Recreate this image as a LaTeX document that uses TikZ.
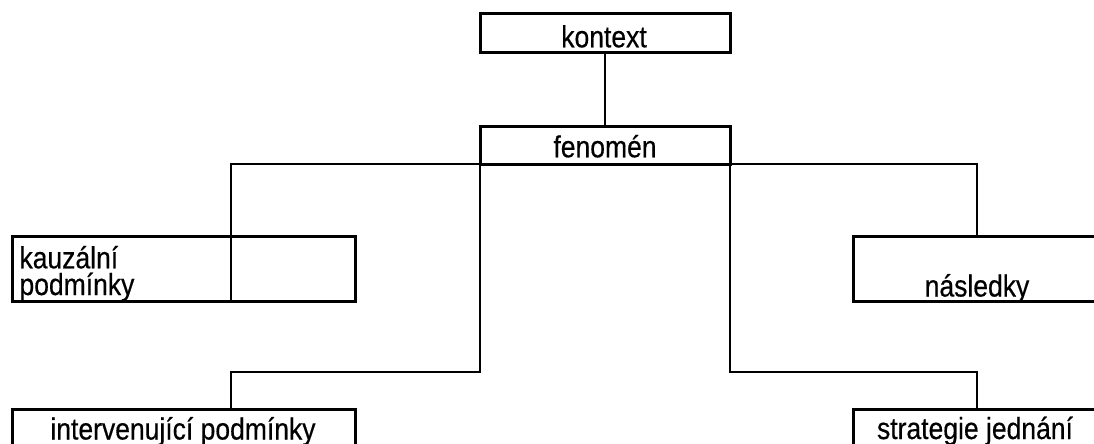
\documentclass[tikz,border=0pt]{standalone}
\usepackage{fontspec}
\setmainfont[FakeBold=0.5]{Liberation Sans}
\usepackage{graphicx}
\newcommand{\tallword}[1]{\scalebox{1}[1.15]{#1}}
\newcommand{\twolines}[2]{\scalebox{1}[1.15]{\vbox{\baselineskip=23.2pt\lineskiplimit=-100pt\lineskip=0pt\hbox{#1}\hbox{#2}}}}
\begin{document}
\begin{tikzpicture}[x=1pt,y=-1pt,
  boxnode/.style={draw=black,line width=3pt,inner sep=0pt,outer sep=0pt,fill=none},
  wire/.style={draw=black,line width=2pt},
  lbl/.style={inner sep=0pt,outer sep=0pt,anchor=base,font=\fontsize{26.5}{30}\selectfont},
  lblw/.style={lbl,anchor=base west}]
\useasboundingbox (0,0) rectangle (1094,444);
\clip (0,0) rectangle (1094,444);

% turning points of the elbow connectors
\coordinate (kL) at (231,237);
\coordinate (iL) at (231,409);

% boxes
\node[boxnode,minimum width=250pt,minimum height=39pt] (kon) at (605,33.5) {};
\node[boxnode,minimum width=250pt,minimum height=38pt] (fen) at (605,145) {};
\node[boxnode,minimum width=343pt,minimum height=64.7pt] (kau) at (183.5,269.3) {};
\node[boxnode,minimum width=248pt,minimum height=64.7pt] (nas) at (977,269.3) {};
\node[boxnode,minimum width=343pt,minimum height=60pt] (int) at (183.5,439) {};
\node[boxnode,minimum width=248pt,minimum height=60pt] (str) at (977,439) {};

% connectors
\draw[wire] (kon.south) -- (fen.north);
\draw[wire] (fen.south) -| (kL) -- (kau.south -| kL);
\draw[wire] (fen.south) -| (nas.north);
\draw[wire] (fen.south west) -- ++(0,208) -| (iL);
\draw[wire] (fen.south east) -- ++(0,208) -| (str.north);

% labels
\node[lbl] (tkon) at (604,47.3) {\tallword{kontext}};
\node[lbl] (tfen) at (605,157.3) {\tallword{fenomén}};
\node[lblw] (tkau) at (19.5,295) {\twolines{kauzální}{podmínky}};
\node[lbl] (tnas) at (977,296.5) {\tallword{následky}};
\node[lbl] (tint) at (183,439.5) {\tallword{intervenující podmínky}};
\node[lbl] (tstr) at (975,439) {\tallword{strategie jednání}};
\end{tikzpicture}
\end{document}
